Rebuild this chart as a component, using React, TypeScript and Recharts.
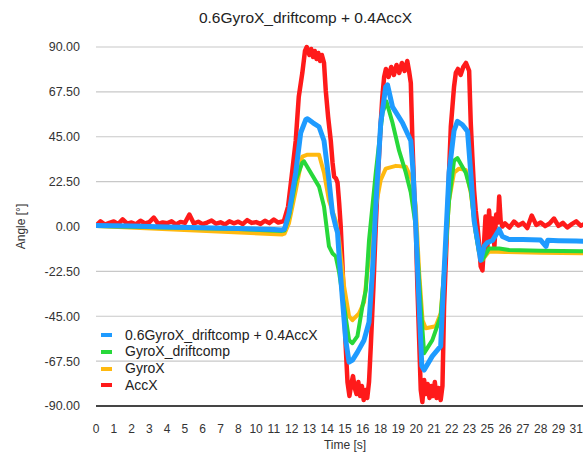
import React from 'react';
import { LineChart, Line, XAxis, YAxis, CartesianGrid, Legend, Label } from 'recharts';

const FONT = '"Liberation Sans", Arial, Helvetica, sans-serif';

// x axis is a category-like index axis; these are the printed time labels
const timeLabels = ['0', '1', '2', '3', '4', '5', '6', '7', '8', '10', '11', '12', '13', '14', '15', '16', '18', '19', '20', '21', '22', '23', '25', '26', '27', '28', '29', '31'];
const labelIndex = timeLabels.map((_, i) => i);
const angleTicks = [-90, -67.5, -45, -22.5, 0, 22.5, 45, 67.5, 90];

// 0.6GyroX_driftcomp + 0.4AccX
const fusedTime = [0, 2, 4, 6, 8, 10, 10.45, 10.6, 10.85, 11.23, 11.51, 11.79, 11.89, 12.2, 12.54, 12.82, 13.1, 13.29, 13.48, 13.58, 13.67, 13.86, 14.04, 14.23, 14.42, 14.7, 15.07, 15.35, 15.54, 15.73, 16.01, 16.29, 16.39, 16.67, 17.23, 17.7, 17.83, 17.98, 18.17, 18.32, 18.45, 18.91, 19.38, 19.57, 19.85, 20.13, 20.32, 20.6, 20.89, 21.07, 21.26, 21.45, 21.63, 21.82, 22.01, 22.29, 22.67, 22.85, 23.23, 24, 25, 25.3, 25.4, 26, 27, 28];
const fusedAngle = [0.5, 0.3, -0.2, -0.6, -1.0, -1.5, -1.8, -1.2, 6.7, 27, 47, 53.5, 54, 52, 50, 43, 23, 7, 0, -3, -15, -37, -57, -68, -67, -63, -57, -48, -23, 10, 52, 70, 71, 60, 52, 43, 27, 0, -40, -70, -72, -65, -60, -23, 27, 48, 52.7, 51, 47.7, 27, 3, -7, -17, -10, -8, -7, -1.5, -5, -6.5, -6.5, -6.8, -10, -6.9, -7.1, -7.3, -7.6];

// GyroX_driftcomp
const gyroCompTime = [0, 4, 8, 10.45, 10.6, 10.85, 11.23, 11.6, 11.7, 12.54, 12.82, 13.1, 13.29, 13.48, 13.67, 13.95, 14.23, 14.42, 14.7, 14.98, 15.17, 15.35, 15.73, 16.11, 16.33, 16.67, 17.04, 17.42, 17.7, 17.98, 18.26, 18.45, 18.91, 19.38, 19.57, 19.85, 20.13, 20.32, 20.79, 21.07, 21.35, 21.54, 21.73, 22.1, 22.67, 23.23, 25, 28];
const gyroCompAngle = [0.3, -0.5, -1.3, -2.2, -2.0, 5, 23, 32, 32.6, 20, 10, -10, -13.4, -15, -23, -40, -57, -58.5, -55, -40, -32, -7, 27, 57, 62.7, 52, 38, 27, 17, 0, -40, -63.5, -57, -45, -23, 13, 33, 34.3, 27, 18, -3, -13, -16.7, -11, -11, -11.8, -12.2, -12.5];

// GyroX
const gyroTime = [0, 10.45, 10.6, 10.85, 11.23, 11.6, 11.89, 12.54, 12.82, 13.1, 13.48, 13.67, 13.95, 14.23, 14.42, 14.79, 15.07, 15.35, 15.73, 16.01, 16.29, 16.86, 17.42, 17.79, 17.98, 18.17, 18.36, 18.54, 19.1, 19.38, 19.57, 19.85, 20.13, 20.41, 20.79, 21.07, 21.35, 21.54, 21.73, 22.1, 23, 25, 28];
const gyroAngle = [0.3, -4, -3.6, 1.7, 18, 35, 36, 36, 27, 13, 3, -7, -30, -45, -47, -43.5, -38, -15, 10, 23.4, 29, 30.4, 30, 23, 10, -23, -47, -51, -50, -43.5, -23, 13, 27, 29, 28.4, 17, -3, -13.4, -16.7, -12.5, -12.8, -13.1, -13.5];

// AccX (noisy)
const accTime = [
  0, 0.25, 0.5, 0.75, 1, 1.25, 1.5, 1.75, 2, 2.25, 2.5, 2.75, 3, 3.25, 3.5, 3.75, 4, 4.25, 4.5, 4.75, 5, 5.25, 5.5, 5.75, 6, 6.25, 6.5, 6.75, 7, 7.25, 7.5, 7.75, 8, 8.25, 8.5, 8.75, 9, 9.25, 9.5, 9.75, 10, 10.25, 10.5,
  10.57, 10.8, 11.0, 11.23, 11.4, 11.6, 11.75, 11.85, 12.0, 12.1, 12.2, 12.3, 12.4, 12.5, 12.6, 12.7, 12.82, 12.92, 13.05, 13.2, 13.3, 13.39, 13.5, 13.58, 13.67, 13.76, 13.86, 13.95, 14.04,
  14.14, 14.25, 14.35, 14.45, 14.55, 14.65, 14.75, 14.85, 14.95, 15.05, 15.15, 15.25, 15.35, 15.45, 15.6, 15.73, 15.87,
  16.01, 16.1, 16.2, 16.3, 16.45, 16.6, 16.75, 16.9, 17.05, 17.2, 17.35, 17.5, 17.6, 17.7, 17.79, 17.88, 17.98, 18.07, 18.17,
  18.26, 18.35, 18.45, 18.55, 18.65, 18.75, 18.85, 18.95, 19.05, 19.15, 19.25, 19.38, 19.48, 19.57, 19.7, 19.85, 19.95,
  20.04, 20.13, 20.23, 20.35, 20.5, 20.65, 20.8, 20.98, 21.07, 21.16, 21.26, 21.35, 21.45, 21.55, 21.63, 21.73,
  21.82, 21.9, 22.0, 22.1, 22.2, 22.3, 22.4, 22.5, 22.6, 22.67, 22.75, 22.85, 23.0, 23.25, 23.5, 23.75, 24.0, 24.25, 24.5, 24.75, 25.0, 25.25, 25.5, 25.75, 26.0, 26.25, 26.5, 26.75, 27.0, 27.25, 27.5, 27.75, 28.0,
];
const accAngle = [
  0.5, 2.6, 1.0, 1.8, 2.5, 1.2, 3.6, 1.4, 2.0, 1.1, 2.9, 1.5, 2.2, 4.5, 1.3, 2.0, 1.6, 2.6, 1.0, 2.3, 1.8, 6.0, 1.5, 2.4, 1.2, 2.0, 3.0, 1.4, 2.1, 1.0, 2.6, 1.6, 2.4, 1.2, 3.2, 1.8, 2.2, 1.3, 2.9, 1.7, 3.5, 2.0, 2.6,
  3, 10, 25, 43, 65, 77, 88, 90, 86, 89, 85, 88, 84, 87, 83, 86, 82, 68, 55, 43, 32, 25, 24, 22, 12, 0, -20, -40, -60,
  -78, -85, -79, -75, -81, -84, -78, -85, -80, -87, -82, -86, -78, -60, -30, 0, 28,
  52, 65, 75, 79, 75, 80, 76, 81, 77, 82, 78, 83, 78, 72, 43, 20, 0, -30, -57,
  -82, -88, -77, -84, -79, -86, -80, -85, -78, -86, -81, -87, -80, -40, -10, 27, 50,
  60, 70, 77, 79, 76, 80, 82, 78, 52, 35, 18, 8, 0, -10, -20, -22,
  -8, 5, -12, 8, -6, 4, -10, 6, 2, 15, 3, 0, 1.5, -0.5, 2.5, 0.5, 1.8, -0.8, 5.5, 0.8, 2.0, 0.2, 1.5, 4.0, 0.3, 1.8, -0.5, 1.2, 2.6, 0.4, 1.4, 0.6, 1.0,
];

const toRows = (t: number[], a: number[]) => t.map((x, i) => ({ t: x, angle: a[i] }));

const series = [
  { name: '0.6GyroX_driftcomp + 0.4AccX', color: '#1E9BFF', width: 5, rows: toRows(fusedTime, fusedAngle) },
  { name: 'GyroX_driftcomp', color: '#27D83A', width: 4, rows: toRows(gyroCompTime, gyroCompAngle) },
  { name: 'GyroX', color: '#FFB90F', width: 4, rows: toRows(gyroTime, gyroAngle) },
  { name: 'AccX', color: '#FF1A1A', width: 4.5, rows: toRows(accTime, accAngle) },
];

const LegendBox = () => (
  <div style={{ fontFamily: FONT, fontSize: 14, lineHeight: '16.8px', color: '#222' }}>
    {series.map(s => (
      <div key={s.name} style={{ display: 'flex', alignItems: 'center', height: 16.8, whiteSpace: 'nowrap' }}>
        <span style={{ display: 'inline-block', width: 11, height: 4, background: s.color, marginRight: 13 }} />
        <span>{s.name}</span>
      </div>
    ))}
  </div>
);

export default function App() {
  // draw red first so blue ends on top
  const drawOrder = [...series].reverse();

  return (
    <div style={{ position: 'absolute', left: 0, top: 0, width: 583, height: 456, overflow: 'hidden', background: '#fff', fontFamily: FONT }}>
      <div style={{ position: 'absolute', left: 0, top: 9, width: 611, textAlign: 'center', fontSize: 15.5, lineHeight: '18px', color: '#222' }}>
        0.6GyroX_driftcomp + 0.4AccX
      </div>
      <LineChart width={594} height={456} margin={{ top: 47, right: 0, bottom: 0, left: 0 }} style={{ fontFamily: FONT }}>
        <CartesianGrid vertical={false} stroke="#c8c8c8" strokeWidth={1.2} />
        <XAxis
          type="number"
          dataKey="t"
          domain={[0, 28]}
          ticks={labelIndex}
          interval={0}
          allowDataOverflow
          tickFormatter={(i: number) => timeLabels[i] ?? ''}
          tickLine={false}
          tickSize={0}
          tickMargin={18}
          height={50}
          axisLine={{ stroke: '#111', strokeWidth: 1.5 }}
          tick={{ fontSize: 12, fill: '#333', fontFamily: FONT }}
        >
          <Label value="Time [s]" position="insideBottom" offset={7} style={{ fontSize: 12, fill: '#333', fontFamily: FONT }} />
        </XAxis>
        <YAxis
          type="number"
          domain={[-90, 90]}
          ticks={angleTicks}
          interval={0}
          tickFormatter={(v: number) => v.toFixed(2)}
          axisLine={false}
          tickLine={false}
          tickSize={0}
          tickMargin={16}
          width={96}
          tick={{ fontSize: 12.5, fill: '#333', fontFamily: FONT }}
        >
          <Label value="Angle [°]" angle={-90} position="insideLeft" offset={21} style={{ fontSize: 12, fill: '#333', fontFamily: FONT, textAnchor: 'middle' }} />
        </YAxis>
        <Legend
          layout="horizontal"
          verticalAlign="middle"
          align="center"
          content={() => <LegendBox />}
          wrapperStyle={{ left: 101, top: 326.6, width: 260, height: 70 }}
        />
        {drawOrder.map(s => (
          <Line
            key={s.name}
            data={s.rows}
            dataKey="angle"
            name={s.name}
            type="linear"
            stroke={s.color}
            strokeWidth={s.width}
            dot={false}
            activeDot={false}
            isAnimationActive={false}
            strokeLinejoin="round"
          />
        ))}
      </LineChart>
    </div>
  );
}
